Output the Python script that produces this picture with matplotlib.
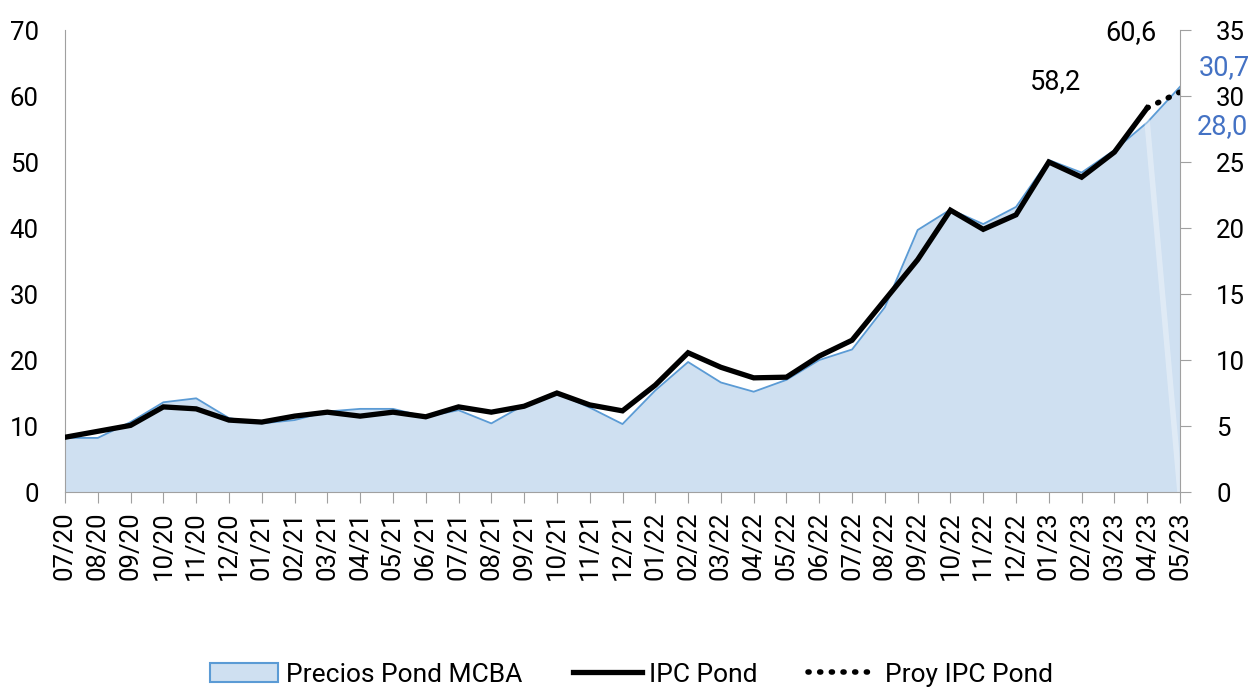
import matplotlib.pyplot as plt
from matplotlib.patches import Patch
from matplotlib.lines import Line2D

plt.rcParams['font.family'] = ['Roboto', 'DejaVu Sans']

# months 07/20 .. 05/23
meses = ["07/20", "08/20", "09/20", "10/20", "11/20", "12/20",
         "01/21", "02/21", "03/21", "04/21", "05/21", "06/21",
         "07/21", "08/21", "09/21", "10/21", "11/21", "12/21",
         "01/22", "02/22", "03/22", "04/22", "05/22", "06/22",
         "07/22", "08/22", "09/22", "10/22", "11/22", "12/22",
         "01/23", "02/23", "03/23", "04/23", "05/23"]

# Precios Pond MCBA (right axis)
mcba = [4.1, 4.1, 5.3, 6.8, 7.1, 5.6,
        5.2, 5.45, 6.1, 6.3, 6.3, 5.7,
        6.2, 5.2, 6.6, 7.5, 6.4, 5.15,
        7.7, 9.85, 8.3, 7.6, 8.5, 10.0,
        10.8, 14.0, 19.85, 21.4, 20.3, 21.6,
        25.15, 24.2, 25.9, 28.0, 30.7]

# IPC Pond (left axis), 07/20 .. 04/23
ipc = [8.3, 9.2, 10.1, 12.9, 12.6, 10.9,
       10.6, 11.5, 12.1, 11.5, 12.1, 11.4,
       12.9, 12.1, 13.0, 15.0, 13.2, 12.3,
       16.2, 21.1, 18.9, 17.3, 17.4, 20.6,
       23.0, 29.1, 35.2, 42.7, 39.8, 42.0,
       50.0, 47.7, 51.5, 58.2]

# Proy IPC Pond, 04/23 .. 05/23
proy = [58.2, 60.6]

x = list(range(len(meses)))
blue_fill = "#CFE0F1"
blue_edge = "#5B9BD5"
lbl_blue = "#4472C4"
dots = (0, (0.2, 1.9))

fig = plt.figure(figsize=(12.5, 6.93), dpi=100)
ax = fig.add_axes([0.052, 0.29, 0.892, 0.6667])
ax2 = ax.twinx()

# area on right scale
ax.fill_between(x, mcba, 0, facecolor=blue_fill, edgecolor="none")
ax.plot(x, mcba, color=blue_edge, lw=1.3)
ax.plot([x[0], x[0]], [0, mcba[0]], color=blue_edge, lw=1.3)
ax.plot([x[-2], x[-1]], [mcba[-2], 0], color="white", alpha=0.35, lw=4)
ax.set_ylim(0, 35)
ax.set_xlim(x[0], x[-1])
ax.yaxis.tick_right()
ax.set_yticks(range(0, 36, 5))

# IPC lines on left scale
ax2.plot(x[:len(ipc)], ipc, color="black", lw=3.8, solid_joinstyle="miter")
ax2.plot(x[-2:], proy, color="black", lw=4, linestyle=dots, dash_capstyle="round")
ax2.set_ylim(0, 70)
ax2.yaxis.tick_left()
ax2.set_yticks(range(0, 71, 10))

for a in (ax, ax2):
    for s in a.spines.values():
        s.set_visible(False)

for side in ('bottom', 'right', 'left'):
    ax.spines[side].set_visible(True)
    ax.spines[side].set_color("#A0A0A0")

ax.set_xticks(x)
ax.set_xticklabels(meses, rotation=90, fontsize=18.5)
ax.tick_params(axis='x', length=8, color="#A0A0A0", pad=6)
ax.tick_params(axis='y', length=8, color="#A0A0A0", labelsize=18.5, pad=18)
ax2.tick_params(axis='y', length=0, labelsize=18.5, pad=19)

# labels
ax2.text(x[-2] - 2.8, ipc[-1] + 2.0, "58,2", fontsize=19.5, ha="center", va="bottom")
ax2.text(x[-1] - 1.5, proy[-1] + 7.0, "60,6", fontsize=19.5, ha="center", va="bottom")
ax.text(x[-1] + 1.35, mcba[-1] + 0.4, "30,7", fontsize=19.5, color=lbl_blue, ha="center", va="bottom")
ax.text(x[-1] + 1.3, mcba[-2] - 0.3, "28,0", fontsize=19.5, color=lbl_blue, ha="center", va="center")

handles = [Patch(facecolor=blue_fill, edgecolor=blue_edge, lw=1.5),
           Line2D([], [], color="black", lw=3.8),
           Line2D([], [], color="black", lw=4, linestyle=dots, dash_capstyle="round")]
fig.legend(handles, ["Precios Pond MCBA", "IPC Pond", "Proy IPC Pond"],
           loc="lower center", bbox_to_anchor=(0.505, -0.025), ncol=3,
           frameon=False, fontsize=19, columnspacing=1.9, handlelength=2.6,
           handletextpad=0.3)

fig.savefig("out.png", dpi=100)
